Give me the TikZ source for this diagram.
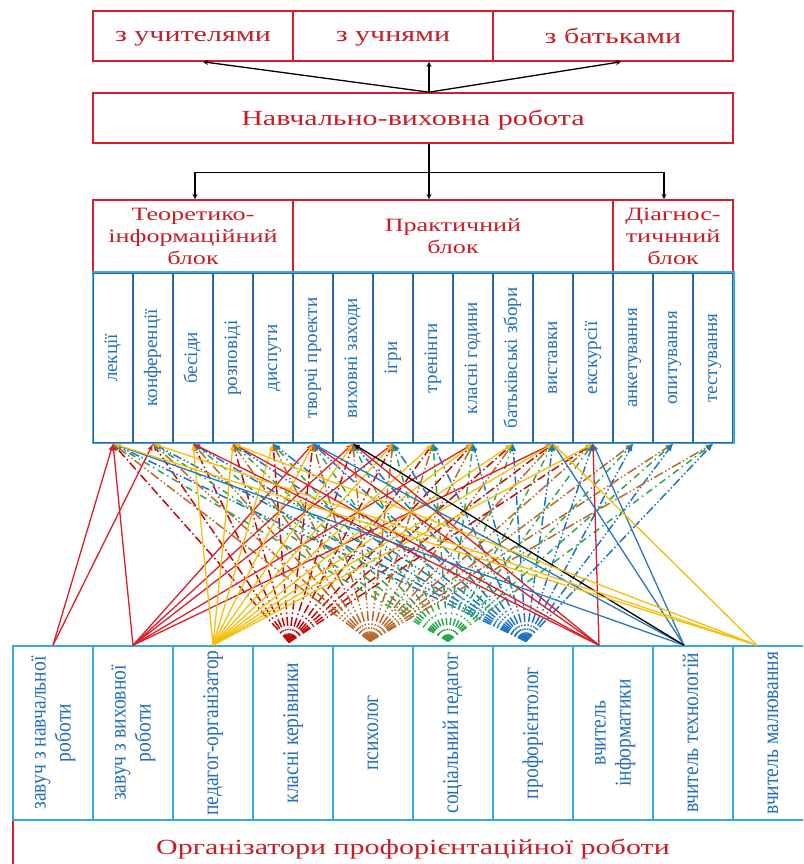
\documentclass[tikz,border=0pt]{standalone}
\usepackage{fontspec}
\setmainfont{Liberation Serif}
\newfontfamily\widefont[FakeStretch=1.39]{Liberation Serif}
\newfontfamily\formfont[FakeStretch=1.0]{Liberation Serif}
\newfontfamily\whofont[FakeStretch=0.87]{Liberation Serif}
\usetikzlibrary{arrows,calc,positioning}
\definecolor{boxred}{RGB}{212,30,42}
\definecolor{txtred}{RGB}{200,28,38}
\definecolor{lightblue}{RGB}{58,168,220}
\definecolor{darkblue}{RGB}{40,100,168}
\definecolor{txtblue}{RGB}{35,110,185}
\definecolor{kkred}{RGB}{192,10,10}
\definecolor{psbrown}{RGB}{185,105,45}
\definecolor{spgreen}{RGB}{40,170,75}
\definecolor{prblue}{RGB}{30,115,200}
\definecolor{vtblue}{RGB}{40,120,190}
\definecolor{yell}{RGB}{245,190,10}
\definecolor{solidred}{RGB}{220,30,40}
\newcommand{\vtext}[1]{\rotatebox{90}{\begin{tabular}{@{}c@{}}#1\end{tabular}}}

\begin{document}
\begin{tikzpicture}[x=1pt, y=1pt, >=latex, node distance=40pt,
  toprow/.style={rectangle,draw=boxred,line width=1.6pt,minimum height=50pt,inner sep=0,text depth=0pt,text=txtred,font=\widefont\fontsize{21.6}{24}\selectfont},
  block/.style={rectangle,draw=boxred,line width=1.6pt,minimum height=73pt,inner sep=0,text=txtred,align=center,font=\widefont\fontsize{18.8}{21.7}\selectfont},
  form/.style={rectangle,draw=darkblue,line width=1.5pt,minimum width=40pt,minimum height=170pt,inner sep=0,text=txtblue,font=\formfont\fontsize{19}{21}\selectfont},
  who/.style={rectangle,draw=lightblue,line width=1.5pt,minimum width=80pt,minimum height=174pt,inner sep=0,text=txtblue,node distance=80pt,font=\whofont\fontsize{22.5}{25}\selectfont},
  orgbox/.style={rectangle,draw=boxred,line width=1.6pt,minimum width=800pt,minimum height=54pt,inner sep=0,text depth=0pt,text=txtred,font=\widefont\fontsize{21.6}{24}\selectfont},
  topar/.style={->,>=stealth,line width=1.3pt,draw=black},
  topline/.style={line width=1.3pt,draw=black},
  redline/.style={->,line width=1.3pt,draw=solidred},
  yelline/.style={->,line width=1.3pt,draw=yell},
  blueline/.style={->,line width=1.3pt,draw=vtblue},
  blackline/.style={->,line width=1.3pt,draw=black},
  kkline/.style={->,line width=1.5pt,draw=kkred,dash pattern=on 9pt off 3pt on 1.5pt off 3pt},
  psline/.style={->,line width=1.5pt,draw=psbrown,dash pattern=on 10pt off 2.5pt on 1.5pt off 2.5pt on 1.5pt off 2.5pt},
  spline/.style={->,line width=1.5pt,draw=spgreen,dash pattern=on 7pt off 4pt on 1.5pt off 4pt},
  prline/.style={->,line width=1.5pt,draw=prblue,dash pattern=on 9pt off 2.5pt on 1.5pt off 2.5pt on 1.5pt off 2.5pt}]
  \path[use as bounding box,clip] (0,0) rectangle (803,864);

  % top part
  \node (vchyteli) [toprow,minimum width=200pt] at (193,828) {з учителями};
  \node (uchni) [toprow,minimum width=200pt,right of=vchyteli,node distance=200pt] {з учнями};
  \node (batky) [toprow,minimum width=240pt,right of=uchni,node distance=220pt] {з батьками};
  \node (robota) [toprow,minimum width=640pt] at (413,746) {Навчально-виховна робота};
  \coordinate (fork) at ($(robota.north)+(16,0)$);
  \draw[topar] (fork) -- ($(vchyteli.south)+(10,0)$);
  \draw[topar] (fork) -- (uchni.south -| fork);
  \draw[topar] (fork) -- ($(batky.south)+(8,0)$);

  % blocks
  \node (teor) [block,minimum width=200pt] at (193,627.5) {Теоретико-\\інформаційний\\блок};
  \node (prakt) [block,minimum width=320pt,right of=teor,node distance=260pt] {Практичний\\блок};
  \node (diagn) [block,minimum width=120pt,right of=prakt,node distance=220pt] {Діагнос-\\тичнний\\блок};
  \coordinate (split) at ($(robota.south -| fork)+(0,-29)$);
  \draw[topline] (robota.south -| fork) -- (split);
  \draw[topar] (split) -| ($(teor.north)+(2,0)$);
  \draw[topar] (split) -- (prakt.north -| split);
  \draw[topar] (split) -| ($(diagn.north)+(-9,0)$);

  % forms of work
  \node (lekcii) [form] at (113,506) {\vtext{лекції}};
  \node (konferencii) [form,right of=lekcii] {\vtext{конференції}};
  \node (besidy) [form,right of=konferencii] {\vtext{бесіди}};
  \node (rozpovidi) [form,right of=besidy] {\vtext{розповіді}};
  \node (disputy) [form,right of=rozpovidi] {\vtext{диспути}};
  \node (tvorchi) [form,right of=disputy] {\vtext{творчі проекти}};
  \node (zakhody) [form,right of=tvorchi] {\vtext{виховні заходи}};
  \node (igry) [form,right of=zakhody] {\vtext{ігри}};
  \node (treningy) [form,right of=igry] {\vtext{тренінги}};
  \node (klasni) [form,right of=treningy] {\vtext{класні години}};
  \node (zbory) [form,right of=klasni] {\vtext{батьківські збори}};
  \node (vystavky) [form,right of=zbory] {\vtext{виставки}};
  \node (ekskursii) [form,right of=vystavky] {\vtext{екскурсії}};
  \node (anketuvannia) [form,right of=ekskursii] {\vtext{анкетування}};
  \node (opytuvannia) [form,right of=anketuvannia] {\vtext{опитування}};
  \node (testuvannia) [form,right of=opytuvannia] {\vtext{тестування}};
  \draw[lightblue,line width=1.5pt] (lekcii.north west) rectangle (testuvannia.south east);

  % organisers
  \node (org) [orgbox] at (413,17) {Організатори профорієнтаційної роботи};
  \node (zavuchnavch) [who] at (53,131) {\vtext{завуч з навчальної\\роботи}};
  \node (zavuchvykh) [who,right of=zavuchnavch] {\vtext{завуч з виховної\\роботи}};
  \node (pedorg) [who,right of=zavuchvykh] {\vtext{педагог-організатор}};
  \node (kerivnyky) [who,right of=pedorg] {\vtext{класні керівники}};
  \node (psykholog) [who,right of=kerivnyky] {\vtext{психолог}};
  \node (socped) [who,right of=psykholog] {\vtext{соціальний педагог}};
  \node (proforient) [who,right of=socped] {\vtext{профорієнтолог}};
  \node (informatyka) [who,right of=proforient] {\vtext{вчитель\\інформатики}};
  \node (tekhnologii) [who,right of=informatyka] {\vtext{вчитель технологій}};
  \node (maliuvannia) [who,right of=tekhnologii] {\vtext{вчитель малювання}};

  \coordinate (kk src) at ($(kerivnyky.north)+(-4,3)$);
  \coordinate (ps src) at ($(psykholog.north)+(-3,4)$);
  \coordinate (sp src) at ($(socped.north)+(-5,4)$);
  \coordinate (pr src) at ($(proforient.north)+(-7,4)$);
  \coordinate (inf src) at ($(informatyka.north)+(-14,0)$);
  \coordinate (tekh src) at ($(tekhnologii.north)+(-9,0)$);
  \coordinate (mal src) at ($(maliuvannia.north)+(-16,0)$);

  % dashed links
  \foreach \f in {lekcii,konferencii,besidy,rozpovidi,disputy,tvorchi,zakhody,igry,treningy,klasni,zbory,vystavky,ekskursii}
    \draw[kkline] (kk src) -- (\f.south);
  \foreach \f in {lekcii,konferencii,besidy,rozpovidi,disputy,tvorchi,zakhody,igry,treningy,klasni,zbory,vystavky,ekskursii,anketuvannia,opytuvannia,testuvannia} {
    \draw[psline] (ps src) -- (\f.south);
    \draw[spline] (sp src) -- (\f.south);
    \draw[prline] (pr src) -- (\f.south);
  }

  % solid links
  \foreach \f in {lekcii,konferencii} \draw[redline] (zavuchnavch.north) -- (\f.south);
  \foreach \f in {lekcii,tvorchi,zakhody,igry,klasni,vystavky} \draw[redline] (zavuchvykh.north) -- (\f.south);
  \foreach \f in {besidy,rozpovidi,disputy,tvorchi,zakhody,igry,treningy,klasni,zbory,vystavky,ekskursii} \draw[yelline] (pedorg.north) -- (\f.south);
  \foreach \f in {besidy,rozpovidi,tvorchi,zakhody,ekskursii} \draw[redline] (inf src) -- (\f.south);
  \foreach \f in {lekcii,tvorchi,vystavky,ekskursii} \draw[blueline] (tekh src) -- (\f.south);
  \draw[blackline] (tekh src) -- (zakhody.south);
  \foreach \f in {lekcii,konferencii,rozpovidi,vystavky} \draw[yelline] (mal src) -- (\f.south);
\end{tikzpicture}
\end{document}
